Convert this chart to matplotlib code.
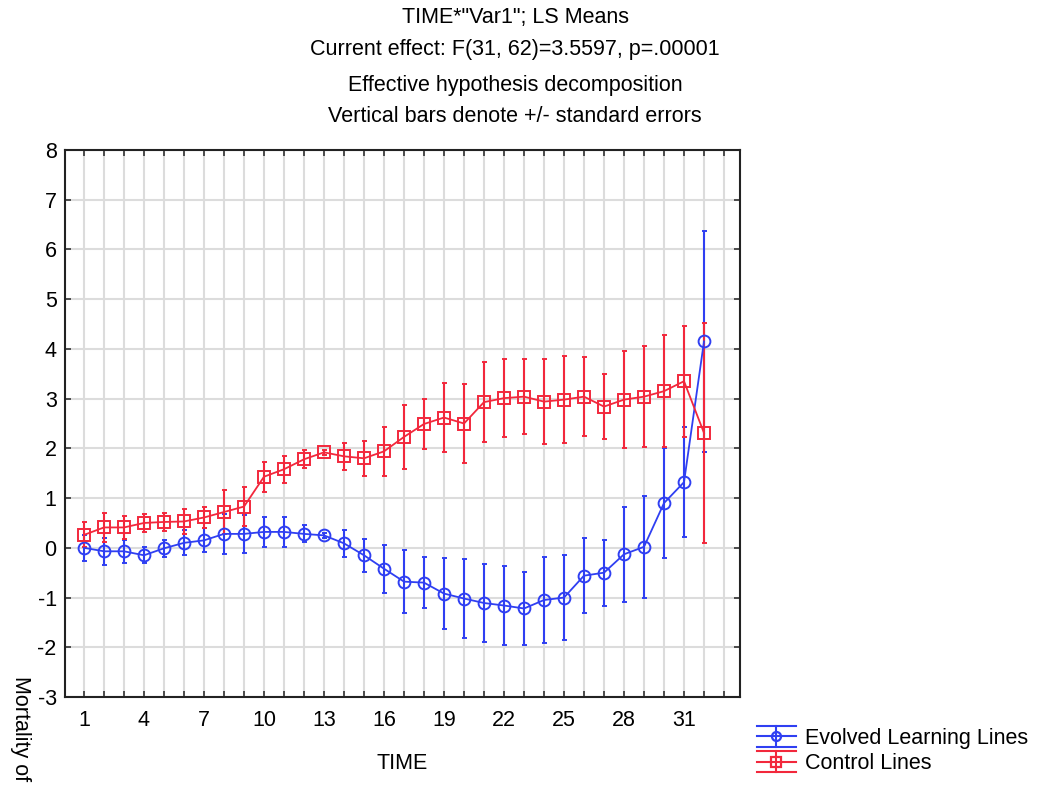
import matplotlib
matplotlib.use("Agg")
import matplotlib.pyplot as plt
from matplotlib.legend_handler import HandlerBase
from matplotlib.lines import Line2D
import numpy as np

plt.rcParams['font.family'] = ['Liberation Sans', 'DejaVu Sans']

time = list(range(1, 33))
evolved_mean = [0.00, -0.07, -0.07, -0.15, -0.01, 0.10, 0.15, 0.28, 0.28, 0.32, 0.32, 0.28,
                0.25, 0.09, -0.15, -0.42, -0.68, -0.70, -0.92, -1.02, -1.11, -1.16, -1.22,
                -1.05, -1.00, -0.56, -0.50, -0.13, 0.02, 0.90, 1.32, 4.15]
evolved_se = [0.26, 0.27, 0.23, 0.16, 0.17, 0.25, 0.24, 0.40, 0.38, 0.30, 0.30, 0.17,
              0.05, 0.27, 0.33, 0.48, 0.64, 0.51, 0.72, 0.80, 0.79, 0.80, 0.74,
              0.86, 0.85, 0.76, 0.66, 0.96, 1.02, 1.10, 1.10, 2.23]
control_mean = [0.26, 0.41, 0.41, 0.50, 0.52, 0.53, 0.61, 0.72, 0.83, 1.43, 1.58, 1.78,
                1.92, 1.84, 1.80, 1.94, 2.23, 2.49, 2.62, 2.50, 2.93, 3.01, 3.04,
                2.94, 2.98, 3.04, 2.84, 2.98, 3.04, 3.15, 3.35, 2.31]
control_se = [0.25, 0.30, 0.23, 0.19, 0.19, 0.25, 0.21, 0.45, 0.40, 0.30, 0.27, 0.18,
              0.05, 0.27, 0.35, 0.49, 0.64, 0.51, 0.70, 0.80, 0.80, 0.79, 0.76,
              0.86, 0.87, 0.80, 0.66, 0.97, 1.01, 1.12, 1.12, 2.22]
xtick_labels = [1, 4, 7, 10, 13, 16, 19, 22, 25, 28, 31]
title_lines = ['TIME*"Var1"; LS Means',
               'Current effect: F(31, 62)=3.5597, p=.00001',
               'Effective hypothesis decomposition',
               'Vertical bars denote +/- standard errors']

W, H = 1042, 788
FS = 15.5
fig = plt.figure(figsize=(W / 100, H / 100), dpi=100)
ax = fig.add_axes([65 / W, 1 - 697 / H, (740 - 65) / W, (697 - 150) / H])

blue = '#2f3ff2'
red = '#f2283c'

ax.errorbar(time, evolved_mean, yerr=evolved_se, color=blue, marker='o', ms=8.5,
            mfc='none', mec=blue, mew=1.4, lw=1.3, elinewidth=1.5, capsize=1.8,
            capthick=1.5, zorder=3)
ax.errorbar(time, control_mean, yerr=control_se, color=red, marker='s', ms=8.5,
            mfc='none', mec=red, mew=1.4, lw=1.3, elinewidth=1.5, capsize=1.8,
            capthick=1.5, zorder=3)

ax.set_xlim(0.05, 33.8)
ax.set_ylim(-3, 8)
ax.set_xticks(range(1, 34), minor=True)
ax.set_xticks(xtick_labels)
ax.set_xticklabels([str(v) for v in xtick_labels], fontsize=FS)
ax.set_yticks(range(-3, 9))
ax.set_yticklabels([str(v) for v in range(-3, 9)], fontsize=FS)
ax.grid(True, which='both', axis='x', color='#dcdcdc', lw=1.5, zorder=0)
ax.grid(True, which='major', axis='y', color='#dcdcdc', lw=1.5, zorder=0)
ax.set_axisbelow(True)
ax.tick_params(which='both', direction='in', length=4, width=1.2,
               top=True, right=True, color='#333333', pad=9)
ax.tick_params(axis='y', pad=6)
for s in ax.spines.values():
    s.set_linewidth(1.5)
    s.set_color('#222222')

ax.set_xlabel('TIME', fontsize=FS, labelpad=16)

fig.text(20 / W, 1 - 676 / H, 'Mortality of', rotation=270, va='top', ha='center',
         fontsize=FS)

ys = [18, 49, 85, 116]
for t, y in zip(title_lines, ys):
    fig.text(515 / W, 1 - y / H, t, ha='center', va='center', fontsize=FS)


class ErrHandler(HandlerBase):
    def __init__(self, color, marker):
        super().__init__()
        self.color = color
        self.marker = marker

    def create_artists(self, legend, orig_handle, xdescent, ydescent, width, height,
                       fontsize, trans):
        cy = height / 2 - ydescent
        d = 7.5
        x0, x1 = -xdescent, -xdescent + width
        xm = (x0 + x1) / 2
        arts = []
        for yy in (cy - d, cy, cy + d):
            arts.append(Line2D([x0, x1], [yy, yy], color=self.color, lw=1.5,
                               transform=trans))
        arts.append(Line2D([xm, xm], [cy - d, cy + d], color=self.color, lw=1.5,
                           transform=trans))
        arts.append(Line2D([xm], [cy], marker=self.marker, ms=6.5, mfc='none',
                           mec=self.color, mew=1.6, transform=trans))
        return arts


h1 = Line2D([], [], color=blue)
h2 = Line2D([], [], color=red)
leg = fig.legend([h1, h2], ['Evolved Learning Lines', 'Control Lines'],
                 handler_map={h1: ErrHandler(blue, 'o'), h2: ErrHandler(red, 's')},
                 loc='upper left', bbox_to_anchor=(757 / W, 1 - 728 / H),
                 frameon=False, fontsize=FS, handlelength=1.8, labelspacing=0.2,
                 handletextpad=0.45, borderaxespad=0, borderpad=0)

fig.savefig('out.png', dpi=100)
